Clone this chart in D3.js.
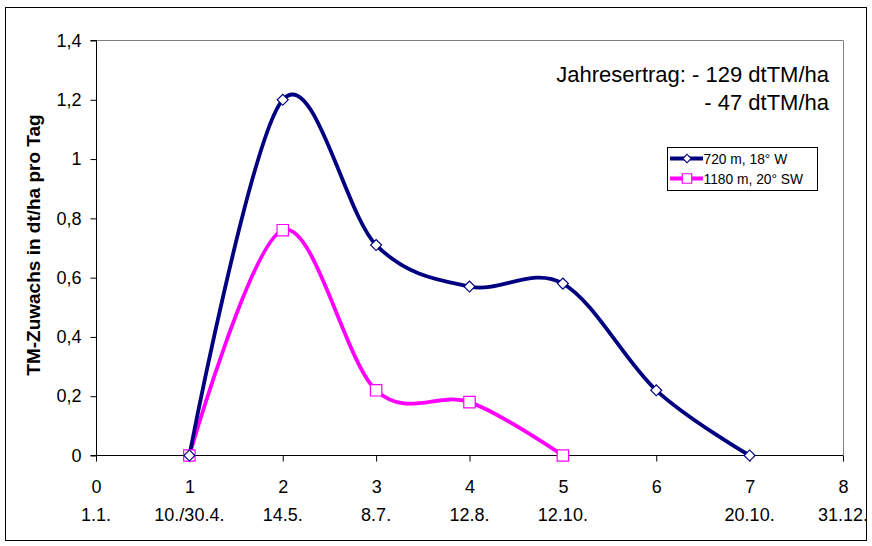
<!DOCTYPE html>
<html>
<head>
<meta charset="utf-8">
<script src="https://cdn.jsdelivr.net/npm/d3@7"></script>
<style>
  body { margin: 0; background: #fff; }
  text { font-family: "Liberation Sans", Arial, sans-serif; }
</style>
</head>
<body>
<div id="chart"></div>
<script>
const xTicks = [0, 1, 2, 3, 4, 5, 6, 7, 8];
const dateLabels = ["1.1.", "10./30.4.", "14.5.", "8.7.", "12.8.", "12.10.", "", "20.10.", "31.12."];
const yTicks = [0, 0.2, 0.4, 0.6, 0.8, 1, 1.2, 1.4];

const seriesNames = ["720 m, 18° W", "1180 m, 20° SW"];
const x720 = [1, 2, 3, 4, 5, 6, 7];
const y720 = [0, 1.2, 0.71, 0.57, 0.58, 0.22, 0];
const x1180 = [1, 2, 3, 4, 5];
const y1180 = [0, 0.76, 0.22, 0.18, 0];

const width = 872, height = 546;
const svg = d3.select("#chart")
  .append("svg")
  .attr("width", width)
  .attr("height", height);

// outer chart border
svg.append("rect")
  .attr("x", 5.5).attr("y", 7.5)
  .attr("width", 861).attr("height", 533)
  .attr("fill", "#fff")
  .attr("stroke", "#000")
  .attr("stroke-width", 1);

const x = d3.scaleLinear().domain([0, 8]).range([96, 843]);
const y = d3.scaleLinear().domain([0, 1.4]).range([455.5, 40.5]);

// plot area frame (top + right, gray)
svg.append("path")
  .attr("d", `M${x(0)},${y(1.4)}H${x(8) + 0.5}V${y(0)}`)
  .attr("fill", "none")
  .attr("stroke", "#808080")
  .attr("stroke-width", 1);

const yAxis = svg.append("g")
  .attr("transform", `translate(${x(0) + 0.5},0)`)
  .call(d3.axisLeft(y).tickValues(yTicks).tickSize(6).tickPadding(9)
    .tickFormat(d => String(+d.toFixed(1)).replace(".", ",")));
yAxis.select(".domain").attr("d", `M-6,${y(1.4)}H0V${y(0)}H-6`);
yAxis.selectAll("text").attr("font-size", 18).attr("font-family", "Liberation Sans, Arial");

const xAxis = svg.append("g")
  .attr("transform", `translate(0,${y(0)})`)
  .call(d3.axisBottom(x).tickValues(xTicks).tickSize(6));
xAxis.select(".domain").attr("d", `M${x(0)},0H${x(8)}`);
xAxis.selectAll("text")
  .attr("font-size", 18)
  .attr("font-family", "Liberation Sans, Arial")
  .attr("dy", null)
  .attr("y", 493 - y(0));

// second row of labels: dates
svg.append("g")
  .selectAll("text")
  .data(xTicks)
  .join("text")
  .attr("x", d => x(d))
  .attr("y", 521)
  .attr("text-anchor", "middle")
  .attr("font-size", 18)
  .text((d, i) => dateLabels[i]);

// y axis title
svg.append("text")
  .attr("transform", `translate(40,245) rotate(-90)`)
  .attr("text-anchor", "middle")
  .attr("font-size", 19)
  .attr("font-weight", "bold")
  .text("TM-Zuwachs in dt/ha pro Tag");

const line = d3.line()
  .x(d => x(d[0]))
  .y(d => y(d[1]))
  .curve(d3.curveCatmullRom.alpha(0));

const data720 = x720.map((v, i) => [v, y720[i]]);
const data1180 = x1180.map((v, i) => [v, y1180[i]]);

svg.append("path")
  .datum(data1180)
  .attr("d", line)
  .attr("fill", "none")
  .attr("stroke", "#ff00ff")
  .attr("stroke-width", 3.8);

svg.append("path")
  .datum(data720)
  .attr("d", line)
  .attr("fill", "none")
  .attr("stroke", "#000080")
  .attr("stroke-width", 3.8);

const diamond = d3.symbol().type(d3.symbolSquare).size(60);
const square = d3.symbol().type(d3.symbolSquare).size(130);

svg.selectAll(".m1180")
  .data(data1180)
  .join("path")
  .attr("class", "m1180")
  .attr("d", square)
  .attr("transform", d => `translate(${x(d[0])},${y(d[1])})`)
  .attr("fill", "#fff")
  .attr("stroke", "#ff00ff")
  .attr("stroke-width", 1.2);

svg.selectAll(".m720")
  .data(data720)
  .join("path")
  .attr("class", "m720")
  .attr("d", diamond)
  .attr("transform", d => `translate(${x(d[0])},${y(d[1])}) rotate(45)`)
  .attr("fill", "#fff")
  .attr("stroke", "#000080")
  .attr("stroke-width", 1.2);

// annotation
svg.append("text")
  .attr("x", 829).attr("y", 82)
  .attr("text-anchor", "end")
  .attr("font-size", 22)
  .text("Jahresertrag: - 129 dtTM/ha");
svg.append("text")
  .attr("x", 829).attr("y", 110)
  .attr("text-anchor", "end")
  .attr("font-size", 22)
  .text("- 47 dtTM/ha");

// legend
const legend = svg.append("g").attr("transform", "translate(667,147)");
legend.append("rect")
  .attr("x", 0.5).attr("y", 0.5)
  .attr("width", 150).attr("height", 43)
  .attr("fill", "#fff")
  .attr("stroke", "#000")
  .attr("stroke-width", 1);

const legendItems = legend.selectAll(".item")
  .data(seriesNames)
  .join("g")
  .attr("class", "item")
  .attr("transform", (d, i) => `translate(0,${11.5 + i * 20})`);

legendItems.append("line")
  .attr("x1", 3).attr("x2", 36)
  .attr("stroke", (d, i) => i === 0 ? "#000080" : "#ff00ff")
  .attr("stroke-width", 3.8);

legendItems.append("path")
  .attr("d", (d, i) => d3.symbol().type(d3.symbolSquare).size(i === 0 ? 36 : 90)())
  .attr("transform", (d, i) => i === 0 ? "translate(20,0) rotate(45)" : "translate(20,0)")
  .attr("fill", "#fff")
  .attr("stroke", (d, i) => i === 0 ? "#000080" : "#ff00ff")
  .attr("stroke-width", 1.2);

legendItems.append("text")
  .attr("x", 36.5).attr("y", 5)
  .attr("font-size", 13.8)
  .text(d => d);
</script>
</body>
</html>
